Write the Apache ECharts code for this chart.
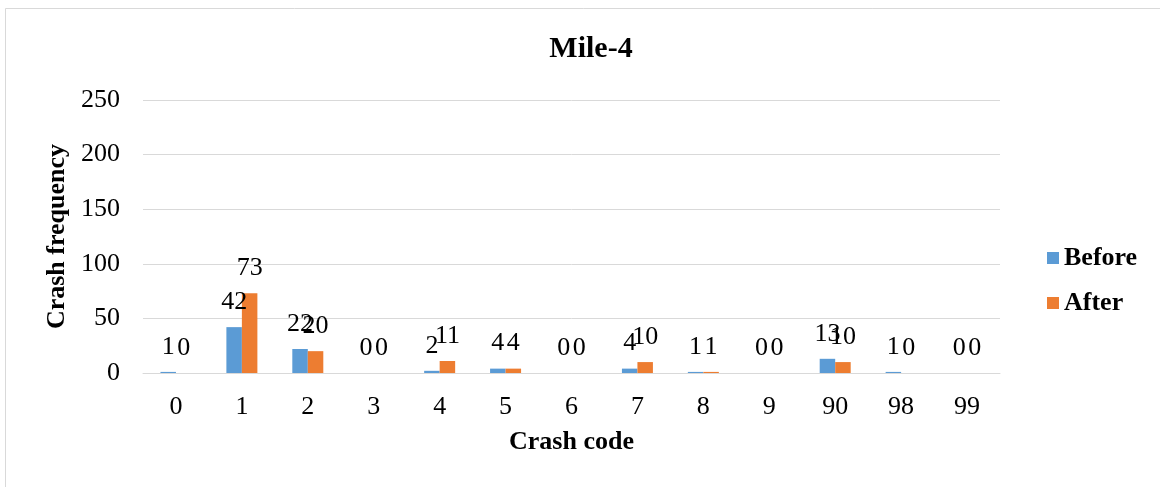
<!DOCTYPE html>
<html>
<head>
<meta charset="utf-8">
<script src="https://cdn.jsdelivr.net/npm/echarts@6/dist/echarts.min.js"></script>
<style>
  html, body { margin: 0; padding: 0; background: #fff; }
  #chart { width: 1160px; height: 487px; }
</style>
</head>
<body>
<div id="chart"></div>
<script>
// Crash codes on the category axis
const crashCodes = ['0', '1', '2', '3', '4', '5', '6', '7', '8', '9', '90', '98', '99'];
// Crash counts per code, before and after
const beforeCounts = [1, 42, 22, 0, 2, 4, 0, 4, 1, 0, 13, 1, 0];
const afterCounts = [0, 73, 20, 0, 11, 4, 0, 10, 1, 0, 10, 0, 0];
// Value axis ticks
const yTicks = [0, 50, 100, 150, 200, 250];

const serif = '"Liberation Serif", "Times New Roman", serif';

const chart = echarts.init(document.getElementById('chart'), null, { renderer: 'canvas' });

const labelStyle = {
  show: true,
  position: 'top',
  distance: 12,
  color: '#000',
  fontFamily: serif,
  fontSize: 26
};

chart.setOption({
  animation: false,
  backgroundColor: '#fff',
  title: {
    text: 'Mile-4',
    left: 586,
    top: 29,
    textAlign: 'center',
    textStyle: { fontFamily: serif, fontWeight: 'bold', fontSize: 30, color: '#000' }
  },
  graphic: [{
    type: 'rect',
    shape: { x: 5.5, y: 8.5, width: 1170, height: 500 },
    style: { fill: 'none', stroke: '#d9d9d9', lineWidth: 1 },
    silent: true
  }],
  legend: {
    orient: 'vertical',
    left: 1042,
    top: 240,
    itemWidth: 12,
    itemHeight: 12,
    itemGap: 19,
    icon: 'rect',
    textStyle: { fontFamily: serif, fontWeight: 'bold', fontSize: 26, color: '#000' },
    data: ['Before', 'After']
  },
  grid: { left: 143, right: 160, top: 100, bottom: 114, containLabel: false },
  xAxis: {
    type: 'category',
    data: crashCodes,
    name: 'Crash code',
    nameLocation: 'middle',
    nameGap: 56,
    nameTextStyle: { fontFamily: serif, fontWeight: 'bold', fontSize: 26, color: '#000' },
    axisLine: { show: true, lineStyle: { color: '#d9d9d9', width: 1 } },
    axisTick: { show: false },
    axisLabel: { margin: 21, fontFamily: serif, fontSize: 26, color: '#000' }
  },
  yAxis: {
    type: 'value',
    min: yTicks[0],
    max: yTicks[yTicks.length - 1],
    interval: yTicks[1] - yTicks[0],
    name: 'Crash frequency',
    nameLocation: 'middle',
    nameGap: 70,
    nameTextStyle: { fontFamily: serif, fontWeight: 'bold', fontSize: 26, color: '#000' },
    axisLine: { show: false },
    axisTick: { show: false },
    splitLine: { lineStyle: { color: '#d9d9d9', width: 1 } },
    axisLabel: { margin: 23, fontFamily: serif, fontSize: 26, color: '#000' }
  },
  series: [
    {
      name: 'Before',
      type: 'bar',
      data: beforeCounts,
      barWidth: 15.5,
      barGap: '0%',
      itemStyle: { color: '#5b9bd5' },
      label: labelStyle
    },
    {
      name: 'After',
      type: 'bar',
      data: afterCounts,
      barWidth: 15.5,
      barGap: '0%',
      itemStyle: { color: '#ed7d31' },
      label: labelStyle
    }
  ]
});
</script>
</body>
</html>
